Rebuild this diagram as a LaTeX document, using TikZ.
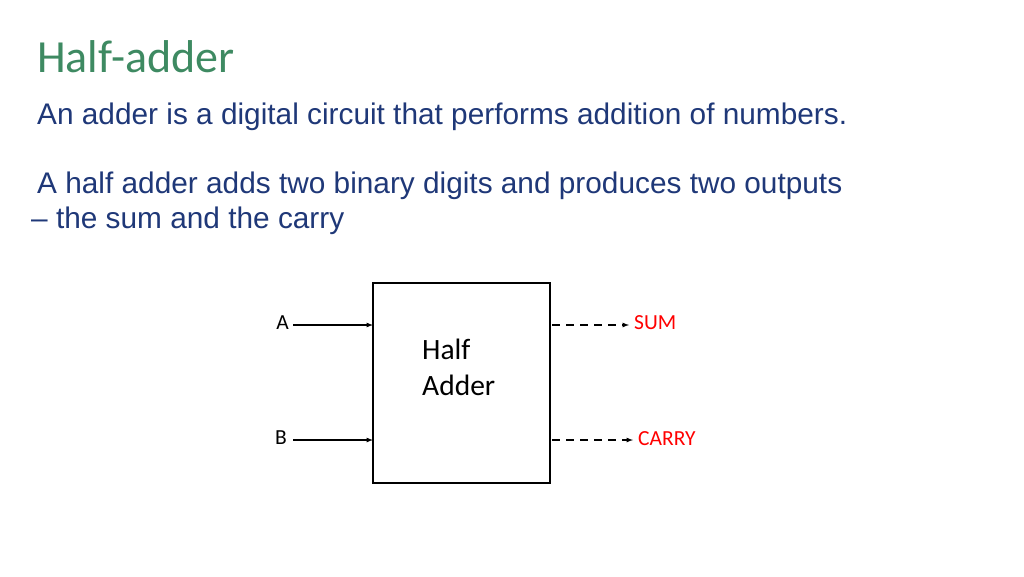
\documentclass[tikz,border=0pt]{standalone}
\usepackage{fontspec}
\setmainfont{Carlito}
\newfontfamily\arial{Liberation Sans}
\definecolor{ttl}{RGB}{62,138,98}
\definecolor{bdy}{RGB}{31,56,120}
\begin{document}
\begin{tikzpicture}[x=1pt,y=-1pt,
  body/.style={anchor=base west,inner sep=0,text=bdy,font=\arial\fontsize{29.8}{34}\selectfont},
  lbl/.style={inner sep=0,font=\fontsize{21.5}{26}\selectfont},
  outl/.style={lbl,text=red,anchor=west},
  inarr/.style={-latex,line width=1.2pt},
  outarr/.style={-latex,line width=1.2pt,dashed,dash pattern=on 8pt off 6pt,shorten >=5pt}]
\useasboundingbox (0,0) rectangle (1024,576);
\node[anchor=base west,inner sep=0,text=ttl,font=\fontsize{46}{54}\selectfont] (title) at (37,72) {Half-adder};
\node[body] (l1) at (37,124) {An adder is a digital circuit that performs addition of numbers.};
\node[body] (l2) at (37,193) {A half adder adds two binary digits and produces two outputs};
\node[body] (l3) at (31,228) {\textendash{} the sum and the carry};
\node[draw,line width=1.2pt,minimum width=177pt,minimum height=200pt,inner sep=0] (ha) at (461.5,383) {};
\node[lbl,anchor=north west,align=left,font=\fontsize{29.5}{36}\selectfont] (txt) at (422,339) {Half\\Adder};
\node[lbl,anchor=east] (a) at (289,323) {A};
\node[lbl,anchor=east] (b) at (287,438) {B};
\coordinate (ai) at (373,325);
\coordinate (bi) at (373,440);
\draw[inarr] (a.east |- ai) ++(4,0) -- (ai);
\draw[inarr] (b.east |- bi) ++(6,0) -- (bi);
\node[outl] (sum) at (634,323) {SUM};
\node[outl] (carry) at (638,439) {CARRY};
\coordinate (so) at (552,325);
\coordinate (co) at (552,440);
\draw[outarr] (so) -- (sum.west |- so);
\draw[outarr] (co) -- (carry.west |- co);
\end{tikzpicture}
\end{document}
